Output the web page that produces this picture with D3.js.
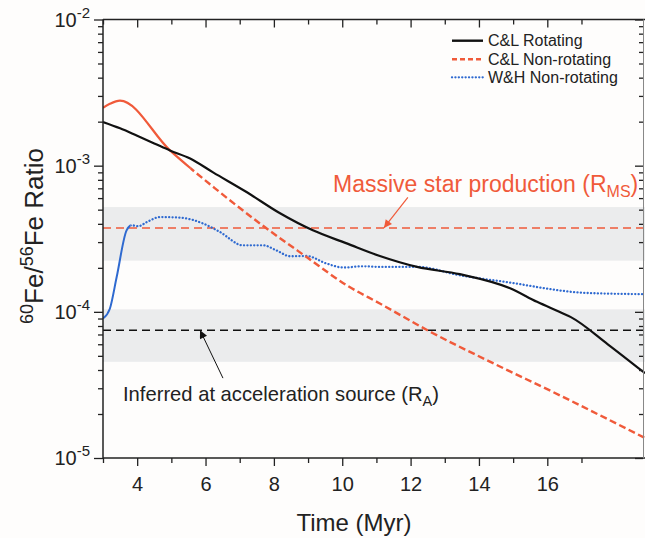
<!DOCTYPE html>
<html><head><meta charset="utf-8">
<script src="https://cdn.jsdelivr.net/npm/d3@7"></script>
<style>
body{margin:0;background:#fefdfc}
svg{display:block}
text{font-family:"Liberation Sans",Arial,Helvetica,sans-serif;fill:#222}
</style>
</head><body>
<svg id="chart" width="645" height="538"></svg>
<script>
// ---------- data ----------
const rotTime  = [3.0, 3.5, 4.0, 4.5, 4.96, 5.55, 6.22, 7.2, 8.18, 9.14, 10.13, 11.1, 12.19, 13.44, 14.91, 15.7, 16.35, 16.69, 17.77, 18.86];
const rotRatio = [1.99e-3, 1.80e-3, 1.60e-3, 1.42e-3, 1.27e-3, 1.12e-3, 9.0e-4, 6.6e-4, 4.72e-4, 3.61e-4, 2.94e-4, 2.41e-4, 2.03e-4, 1.81e-4, 1.45e-4, 1.17e-4, 1.0e-4, 9.2e-5, 6.0e-5, 3.8e-5];

const nonRotTime  = [3.0, 3.2, 3.497, 4.96, 6.277, 7.593, 8.968, 10.15, 11.10, 12.655, 14.29, 16.458, 18.857];
const nonRotRatio = [2.49e-3, 2.65e-3, 2.79e-3, 1.272e-3, 7.0e-4, 4.02e-4, 2.36e-4, 1.51e-4, 1.14e-4, 7.14e-5, 4.60e-5, 2.62e-5, 1.37e-5];

const whTime  = [3.0, 3.2, 3.4, 3.69, 3.84, 4.03, 4.28, 4.67, 5.25, 5.93, 6.42, 7.1, 7.69, 8.08, 8.47, 8.96, 9.54, 10.03, 10.62, 11.1, 12.18, 13.44, 15.1, 16.27, 17.04, 18.86];
const whRatio = [9.0e-5, 1.05e-4, 1.73e-4, 3.61e-4, 3.91e-4, 3.85e-4, 4.11e-4, 4.45e-4, 4.41e-4, 4.02e-4, 3.52e-4, 2.85e-4, 2.85e-4, 2.63e-4, 2.40e-4, 2.41e-4, 2.14e-4, 2.01e-4, 2.05e-4, 2.03e-4, 2.03e-4, 1.78e-4, 1.56e-4, 1.41e-4, 1.35e-4, 1.32e-4];

// reference levels and their uncertainty bands
const rmsLevel = 3.75e-4, rmsBand = [2.24e-4, 5.21e-4];
const raLevel  = 7.48e-5, raBand  = [4.55e-5, 1.04e-4];

const xTicks = [4, 6, 8, 10, 12, 14, 16];
const yTicks = [1e-5, 1e-4, 1e-3, 1e-2];
const yTickExp = ["-5", "-4", "-3", "-2"];

const legendLabels = ["C&L Rotating", "C&L Non-rotating", "W&H Non-rotating"];

// ---------- layout ----------
const L = 103, R = 643, T = 19.5, B = 458;
const cBlack = "#111", cRed = "#f05a3a", cBlue = "#2f6ad0", cBand = "#ebeced";

const svg = d3.select("#chart");
svg.append("rect").attr("width",645).attr("height",538).attr("fill","#fefdfc");

const x = d3.scaleLinear().domain([3, 18.8]).range([L, R]);
const y = d3.scaleLog().domain([1e-5, 1e-2]).range([B, T]);

const defs = svg.append("defs");
defs.append("clipPath").attr("id","plot").append("rect")
  .attr("x",L).attr("y",T).attr("width",R-L+2).attr("height",B-T);
defs.append("clipPath").attr("id","redSolid").append("rect")
  .attr("x",L).attr("y",T).attr("width",x(5.55)-L).attr("height",B-T);
defs.append("clipPath").attr("id","redDash").append("rect")
  .attr("x",x(5.55)).attr("y",T).attr("width",R-x(5.55)+2).attr("height",B-T);
defs.append("clipPath").attr("id","blueSolid").append("rect")
  .attr("x",L).attr("y",T).attr("width",x(3.8)-L).attr("height",B-T);
defs.append("clipPath").attr("id","blueDot").append("rect")
  .attr("x",x(3.8)).attr("y",T).attr("width",R-x(3.8)+2).attr("height",B-T);

const mk = (id,color,w,h)=>{
  defs.append("marker").attr("id",id).attr("viewBox","0 0 10 10").attr("refX",10).attr("refY",5)
    .attr("markerWidth",w).attr("markerHeight",h).attr("markerUnits","userSpaceOnUse").attr("orient","auto")
    .append("path").attr("d","M0,0L10,5L0,10Z").attr("fill",color);
};
mk("arrRed", cRed, 10, 8);
mk("arrBlack", "#111", 10, 8);

const plot = svg.append("g").attr("clip-path","url(#plot)");

// bands
[rmsBand, raBand].forEach(b=>{
  plot.append("rect").attr("x",L).attr("width",R-L+2)
    .attr("y",y(b[1])).attr("height",y(b[0])-y(b[1])).attr("fill",cBand);
});
// level lines
plot.append("line").attr("x1",L).attr("x2",R+2).attr("y1",y(rmsLevel)).attr("y2",y(rmsLevel))
  .attr("stroke",cRed).attr("stroke-width",1.6).attr("stroke-dasharray","8,5");
plot.append("line").attr("x1",L).attr("x2",R+2).attr("y1",y(raLevel)).attr("y2",y(raLevel))
  .attr("stroke","#111").attr("stroke-width",1.6).attr("stroke-dasharray","8,5");

const line = d3.line().x(d=>x(d[0])).y(d=>y(d[1])).curve(d3.curveMonotoneX);
const rot = rotTime.map((t,i)=>[t, rotRatio[i]]);
const nonRot = nonRotTime.map((t,i)=>[t, nonRotRatio[i]]);
const wh = whTime.map((t,i)=>[t, whRatio[i]]);

// blue W&H
plot.append("g").attr("clip-path","url(#blueSolid)").append("path").attr("d",line(wh))
  .attr("fill","none").attr("stroke",cBlue).attr("stroke-width",2);
plot.append("g").attr("clip-path","url(#blueDot)").append("path").attr("d",line(wh))
  .attr("fill","none").attr("stroke",cBlue).attr("stroke-width",2.3)
  .attr("stroke-linecap","round").attr("stroke-dasharray","0.1,3.3");
// red C&L non-rotating
plot.append("g").attr("clip-path","url(#redSolid)").append("path").attr("d",line(nonRot))
  .attr("fill","none").attr("stroke",cRed).attr("stroke-width",2.2);
plot.append("g").attr("clip-path","url(#redDash)").append("path").attr("d",line(nonRot))
  .attr("fill","none").attr("stroke",cRed).attr("stroke-width",2.4).attr("stroke-dasharray","7,3.5");
// black C&L rotating
plot.append("path").attr("d",line(rot)).attr("fill","none").attr("stroke",cBlack).attr("stroke-width",2.2);

// ---------- axes ----------
const axisColor = "#222";
const majorY = yTicks;
const minorY = [];
for (let e=-5;e<-2;e++) for (let m=2;m<=9;m++) minorY.push(m*Math.pow(10,e));
const minorX = [3,5,7,9,11,13,15,17];

function styleAxis(g){
  g.select(".domain").remove();
  g.selectAll("line").attr("stroke",axisColor).attr("stroke-width",1.3);
}
// bottom
const gB = svg.append("g").attr("transform",`translate(0,${B})`);
gB.call(d3.axisBottom(x).tickValues(xTicks).tickSize(8).tickFormat(d3.format("d"))).call(styleAxis);
gB.selectAll("text").attr("font-size",20).attr("dy","1.05em").attr("y",12).style("fill","#222");
svg.append("g").attr("transform",`translate(0,${B})`)
  .call(d3.axisBottom(x).tickValues(minorX).tickSize(5).tickFormat("")).call(styleAxis);
// top (inward)
svg.append("g").attr("transform",`translate(0,${T})`)
  .call(d3.axisBottom(x).tickValues(xTicks).tickSize(8).tickFormat("")).call(styleAxis);
svg.append("g").attr("transform",`translate(0,${T})`)
  .call(d3.axisBottom(x).tickValues(minorX).tickSize(5).tickFormat("")).call(styleAxis);
// left
const gL = svg.append("g").attr("transform",`translate(${L},0)`);
gL.call(d3.axisLeft(y).tickValues(majorY).tickSize(9).tickFormat("")).call(styleAxis);
svg.append("g").attr("transform",`translate(${L},0)`)
  .call(d3.axisLeft(y).tickValues(minorY).tickSize(5).tickFormat("")).call(styleAxis);
// right (inward)
svg.append("g").attr("transform",`translate(${R},0)`)
  .call(d3.axisLeft(y).tickValues(majorY).tickSize(8).tickFormat("")).call(styleAxis);
svg.append("g").attr("transform",`translate(${R},0)`)
  .call(d3.axisLeft(y).tickValues(minorY).tickSize(4).tickFormat("")).call(styleAxis);

// y tick labels 10^n
yTicks.forEach((v,i)=>{
  const t = svg.append("text").attr("x",L-13).attr("y",y(v)+7).attr("text-anchor","end").attr("font-size",20);
  t.append("tspan").text("10");
  t.append("tspan").attr("font-size",15).attr("dy",-9).text(yTickExp[i]);
});

// frame lines
svg.append("line").attr("x1",L).attr("x2",L).attr("y1",T).attr("y2",B).attr("stroke",axisColor).attr("stroke-width",1.5);
svg.append("line").attr("x1",L).attr("x2",645).attr("y1",B).attr("y2",B).attr("stroke",axisColor).attr("stroke-width",1.5);
svg.append("line").attr("x1",L).attr("x2",645).attr("y1",T).attr("y2",T).attr("stroke",axisColor).attr("stroke-width",1.5);
svg.append("line").attr("x1",R+0.5).attr("x2",R+0.5).attr("y1",T).attr("y2",B).attr("stroke","#888").attr("stroke-width",1);

// axis titles
svg.append("text").attr("x",354).attr("y",531).attr("text-anchor","middle").attr("font-size",24).text("Time (Myr)");
const yl = svg.append("text").attr("transform","translate(43,236) rotate(-90)").attr("text-anchor","middle").attr("font-size",26);
yl.append("tspan").attr("font-size",18).attr("dy",-10).text("60");
yl.append("tspan").attr("dy",10).text("Fe/");
yl.append("tspan").attr("font-size",18).attr("dy",-10).text("56");
yl.append("tspan").attr("dy",10).text("Fe Ratio");

// annotations
const ann1 = svg.append("text").attr("x",x(9.73)).attr("y",y(6.57e-4)).attr("font-size",23).style("fill",cRed);
ann1.append("tspan").text("Massive star production (R");
ann1.append("tspan").attr("font-size",16).attr("dy",5).text("MS");
ann1.append("tspan").attr("dy",-5).text(")");
svg.append("line").attr("x1",x(11.92)).attr("y1",y(6.07e-4)).attr("x2",x(11.22)).attr("y2",y(rmsLevel))
  .attr("stroke",cRed).attr("stroke-width",1.2).attr("marker-end","url(#arrRed)");

const ann2 = svg.append("text").attr("x",x(3.585)).attr("y",y(2.45e-5)).attr("font-size",20.2);
ann2.append("tspan").text("Inferred at acceleration source (R");
ann2.append("tspan").attr("font-size",14.5).attr("dy",5).text("A");
ann2.append("tspan").attr("dy",-5).text(")");
svg.append("line").attr("x1",x(6.51)).attr("y1",y(3.52e-5)).attr("x2",x(5.84)).attr("y2",y(raLevel))
  .attr("stroke","#111").attr("stroke-width",1).attr("marker-end","url(#arrBlack)");

// legend
const legY = [40.7, 59.3, 77.3];
const legStyles = [
  {c:cBlack, w:2.4, dash:null, cap:"butt"},
  {c:cRed, w:2.4, dash:"5,3", cap:"butt"},
  {c:cBlue, w:2.3, dash:"0.1,3.3", cap:"round"}
];
legendLabels.forEach((lab,i)=>{
  const s = legStyles[i];
  const ln = svg.append("line").attr("x1",452).attr("x2",483).attr("y1",legY[i]).attr("y2",legY[i])
    .attr("stroke",s.c).attr("stroke-width",s.w).attr("stroke-linecap",s.cap);
  if (s.dash) ln.attr("stroke-dasharray",s.dash);
  svg.append("text").attr("x",488).attr("y",legY[i]+5.5).attr("font-size",16).text(lab);
});
</script>
</body></html>
